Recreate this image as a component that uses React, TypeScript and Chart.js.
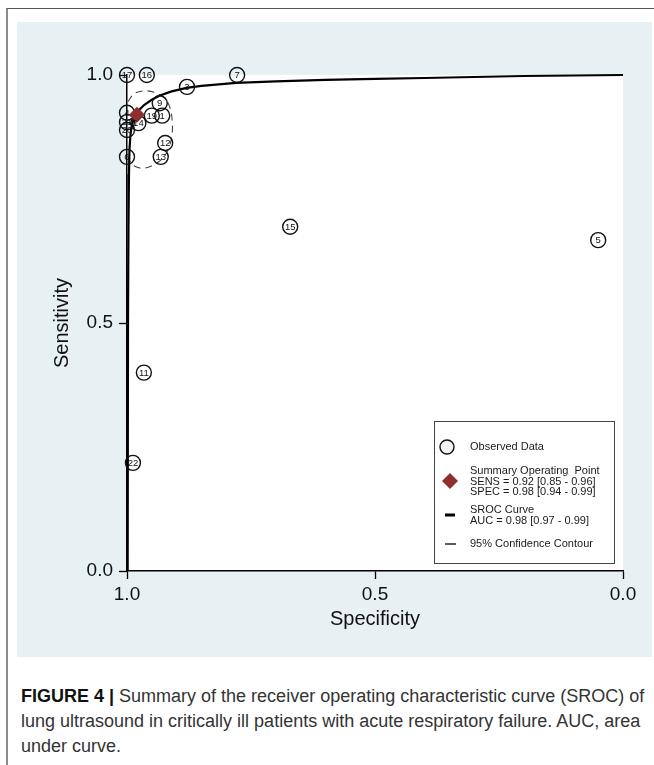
import React, { useEffect, useRef } from "react";
import { Chart, registerables } from "chart.js";

Chart.register(...registerables);

// ---- Data ----
const studyLabels = ["17", "16", "7", "3", "9", "19", "1", "4", "21", "20", "14", "6", "12", "13", "15", "5", "11", "22"];
const studySpec = [1.0, 0.96, 0.778, 0.879, 0.934, 0.95, 0.929, 1.0, 1.0, 1.0, 0.977, 1.0, 0.923, 0.932, 0.671, 0.05, 0.966, 0.988];
const studySens = [1.0, 1.0, 1.0, 0.976, 0.943, 0.918, 0.918, 0.924, 0.905, 0.889, 0.903, 0.835, 0.863, 0.835, 0.694, 0.667, 0.4, 0.218];

const summarySpec = [0.98];
const summarySens = [0.92];

const srocSpec = [0.0, 0.1, 0.2, 0.3, 0.4, 0.5, 0.6, 0.7, 0.78, 0.85, 0.88, 0.91, 0.935, 0.95, 0.965, 0.975, 0.985, 0.99, 0.993, 0.995, 0.996, 0.997, 0.998, 0.998, 0.999, 0.999];
const srocSens = [1.0, 0.999, 0.998, 0.996, 0.994, 0.992, 0.99, 0.987, 0.984, 0.978, 0.974, 0.967, 0.958, 0.95, 0.94, 0.93, 0.915, 0.9, 0.88, 0.85, 0.8, 0.7, 0.5, 0.3, 0.1, 0.0];

const contourSpec = [0.998, 0.986, 0.964, 0.942, 0.923, 0.913, 0.909, 0.909, 0.915, 0.927, 0.946, 0.968, 0.986, 0.998];
const contourSens = [0.946, 0.962, 0.968, 0.964, 0.952, 0.933, 0.909, 0.881, 0.855, 0.833, 0.819, 0.812, 0.817, 0.831];

const axisMin = 0;
const axisMax = 1;
const axisStep = 0.5;

const legendLines = {
  observed: "Observed Data",
  summary: ["Summary Operating  Point", "SENS = 0.92 [0.85 - 0.96]", "SPEC = 0.98 [0.94 - 0.99]"],
  sroc: ["SROC Curve", "AUC = 0.98 [0.97 - 0.99]"],
  contour: "95% Confidence Contour",
};

const FONT = '"Liberation Sans", Arial, Helvetica, sans-serif';
const DIAMOND = "#8f2e2f";

const toPts = (xs: number[], ys: number[]) => xs.map((x, i) => ({ x, y: ys[i] }));

const whiteAreaPlugin = {
  id: "whiteArea",
  beforeDraw(chart: any) {
    const { ctx, chartArea } = chart;
    ctx.save();
    ctx.fillStyle = "#ffffff";
    ctx.fillRect(chartArea.left, chartArea.top, chartArea.right - chartArea.left, chartArea.bottom - chartArea.top);
    ctx.restore();
  },
};

const studyLabelPlugin = {
  id: "studyLabels",
  afterDatasetsDraw(chart: any) {
    const meta = chart.getDatasetMeta(1);
    const ctx = chart.ctx;
    ctx.save();
    ctx.font = `9.5px ${FONT}`;
    ctx.fillStyle = "#111";
    ctx.textAlign = "center";
    ctx.textBaseline = "middle";
    meta.data.forEach((el: any, i: number) => {
      ctx.fillText(studyLabels[i], el.x, el.y + 0.5);
    });
    ctx.restore();
  },
};

const legendPlugin = {
  id: "srocLegend",
  afterDraw(chart: any) {
    const { ctx, chartArea } = chart;
    const bx = chartArea.right - 189;
    const by = chartArea.bottom - 150;
    const bw = 180;
    const bh = 142;
    ctx.save();
    ctx.fillStyle = "#fff";
    ctx.fillRect(bx, by, bw, bh);
    ctx.strokeStyle = "#444";
    ctx.lineWidth = 1;
    ctx.strokeRect(bx + 0.5, by + 0.5, bw, bh);

    // circle
    ctx.beginPath();
    ctx.arc(bx + 13, by + 26, 7, 0, Math.PI * 2);
    ctx.fillStyle = "#f2f2f2";
    ctx.fill();
    ctx.strokeStyle = "#111";
    ctx.lineWidth = 1.4;
    ctx.stroke();

    // diamond
    const dx = bx + 16, dy = by + 60, ds = 8;
    ctx.beginPath();
    ctx.moveTo(dx, dy - ds);
    ctx.lineTo(dx + ds, dy);
    ctx.lineTo(dx, dy + ds);
    ctx.lineTo(dx - ds, dy);
    ctx.closePath();
    ctx.fillStyle = DIAMOND;
    ctx.fill();

    // sroc dash
    ctx.strokeStyle = "#000";
    ctx.lineWidth = 3;
    ctx.beginPath();
    ctx.moveTo(bx + 11, by + 94);
    ctx.lineTo(bx + 21, by + 94);
    ctx.stroke();

    // contour dash
    ctx.lineWidth = 1.3;
    ctx.beginPath();
    ctx.moveTo(bx + 11, by + 123);
    ctx.lineTo(bx + 22, by + 123);
    ctx.stroke();

    ctx.fillStyle = "#1a1a1a";
    ctx.font = `11px ${FONT}`;
    ctx.textAlign = "left";
    ctx.textBaseline = "middle";
    const tx = bx + 36;
    ctx.fillText(legendLines.observed, tx, by + 26);
    legendLines.summary.forEach((t, i) => ctx.fillText(t, tx, by + 50 + i * 10.5));
    legendLines.sroc.forEach((t, i) => ctx.fillText(t, tx, by + 89 + i * 10.5));
    ctx.fillText(legendLines.contour, tx, by + 123);
    ctx.restore();
  },
};

function SrocChart() {
  const ref = useRef<HTMLCanvasElement | null>(null);
  useEffect(() => {
    if (!ref.current) return;
    const fmt = (v: any) => Number(v).toFixed(1);
    const chart = new Chart(ref.current, {
      type: "scatter",
      data: {
        datasets: [
          {
            label: "Summary Operating Point",
            data: toPts(summarySpec, summarySens),
            pointStyle: "rectRot",
            pointRadius: 8,
            backgroundColor: DIAMOND,
            borderColor: DIAMOND,
            borderWidth: 0,
            order: 0,
            clip: false,
          } as any,
          {
            label: "Observed Data",
            data: toPts(studySpec, studySens),
            pointStyle: "circle",
            pointRadius: 7.5,
            backgroundColor: "rgba(0,0,0,0)",
            borderColor: "#111",
            borderWidth: 1.4,
            order: 1,
            clip: false,
          } as any,
          {
            label: "SROC Curve",
            data: toPts(srocSpec, srocSens),
            showLine: true,
            pointRadius: 0,
            borderColor: "#000",
            borderWidth: 2.2,
            tension: 0,
            order: 2,
            clip: false,
          } as any,
          {
            label: "95% Confidence Contour",
            data: toPts(contourSpec, contourSens),
            showLine: true,
            pointRadius: 0,
            borderColor: "#444",
            borderWidth: 1.1,
            borderDash: [7, 5],
            tension: 0.35,
            order: 3,
            clip: false,
          } as any,
        ],
      },
      options: {
        animation: false,
        responsive: false,
        events: [],
        layout: { padding: { left: 0, top: 53, right: 29, bottom: 0 } },
        plugins: { legend: { display: false }, tooltip: { enabled: false } },
        scales: {
          x: {
            type: "linear",
            min: axisMin,
            max: axisMax,
            reverse: true,
            afterFit(s: any) {
              s.height = 86;
            },
            ticks: { stepSize: axisStep, callback: fmt, font: { family: FONT, size: 19 }, color: "#111", padding: 4, maxRotation: 0 },
            grid: { display: true, drawOnChartArea: false, drawTicks: true, tickLength: 8, tickColor: "#000", tickWidth: 1.3 },
            border: { display: true, color: "#000", width: 1.5 },
            title: { display: true, text: "Specificity", font: { family: FONT, size: 20 }, color: "#111", padding: { top: 0, bottom: 26 } },
          },
          y: {
            type: "linear",
            min: axisMin,
            max: axisMax,
            afterFit(s: any) {
              s.width = 110;
            },
            ticks: { stepSize: axisStep, callback: fmt, font: { family: FONT, size: 19 }, color: "#111", padding: 6 },
            grid: { display: true, drawOnChartArea: false, drawTicks: true, tickLength: 8, tickColor: "#000", tickWidth: 1.3 },
            border: { display: true, color: "#000", width: 1.5 },
            title: { display: true, text: "Sensitivity", font: { family: FONT, size: 20 }, color: "#111", padding: { top: 33, bottom: 0 } },
          },
        },
      } as any,
      plugins: [whiteAreaPlugin, studyLabelPlugin, legendPlugin],
    });
    return () => chart.destroy();
  }, []);
  return <canvas ref={ref} width={635} height={635} style={{ display: "block", width: 635, height: 635 }} />;
}

export default function App() {
  return (
    <div style={{ position: "absolute", left: 0, top: 0, width: 654, height: 765, overflow: "hidden" }}>
      <div
        style={{
          position: "absolute",
          left: 6,
          top: 8,
          width: 660,
          height: 800,
          borderLeft: "2px solid #8a8a8a",
          borderTop: "1px solid #555",
        }}
      />
      <div style={{ position: "absolute", left: 17, top: 22, width: 635, height: 635, background: "#e7f0f3" }}>
        <SrocChart />
      </div>
      <div
        style={{
          position: "absolute",
          left: 21,
          top: 684,
          width: 640,
          whiteSpace: "nowrap",
          fontFamily: FONT,
          fontSize: 18,
          lineHeight: "25px",
          color: "#333",
        }}
      >
        <b style={{ color: "#111" }}>FIGURE 4 |</b> Summary of the receiver operating characteristic curve (SROC) of
        <br />
        lung ultrasound in critically ill patients with acute respiratory failure. AUC, area
        <br />
        under curve.
      </div>
    </div>
  );
}
